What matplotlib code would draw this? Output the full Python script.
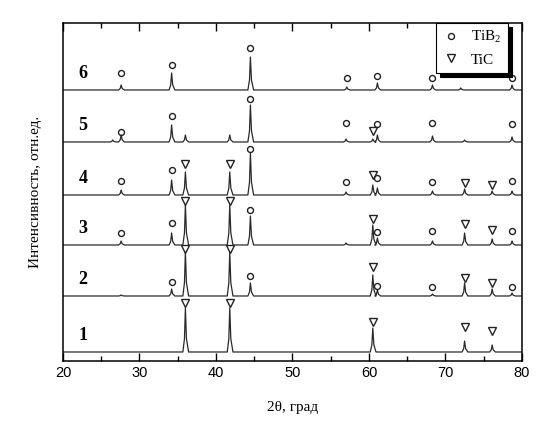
import matplotlib
matplotlib.use("Agg")
import matplotlib.pyplot as plt
from matplotlib.ticker import MultipleLocator

plt.rcParams["mathtext.fontset"] = "custom"
plt.rcParams["mathtext.rm"] = "Liberation Serif"
plt.rcParams["mathtext.it"] = "Liberation Serif:italic"

# ---------------- data ----------------
labels = ["1", "2", "3", "4", "5", "6"]
baselines = [9, 65, 116, 166, 219, 271]          # vertical offset of each pattern

# peak positions (2theta) and heights above baseline, per pattern
peaks_x = [
    [36.0, 41.8, 60.5, 72.5, 76.1],
    [27.6, 34.2, 36.0, 41.8, 44.5, 60.5, 61.1, 68.3, 72.5, 76.1, 78.7],
    [27.6, 34.2, 36.0, 41.8, 44.5, 57.0, 60.5, 61.1, 68.3, 72.5, 76.1, 78.7],
    [27.6, 34.2, 36.0, 41.8, 44.5, 57.0, 60.5, 61.1, 68.3, 72.5, 76.1, 78.7],
    [26.5, 27.6, 34.2, 36.0, 41.8, 44.5, 57.0, 60.5, 61.1, 68.3, 72.5, 78.7],
    [27.6, 34.2, 44.5, 57.1, 61.1, 68.3, 72.0, 78.7],
]
peaks_h = [
    [44, 44, 24, 11, 7],
    [1, 7, 44, 44, 13, 21, 6, 2, 13, 7, 3],
    [4, 12, 40, 40, 29, 2, 20, 7, 4, 12, 6, 4],
    [5, 15, 23, 23, 42, 3, 10, 7, 4, 6, 4, 4],
    [2, 7, 17, 7, 7, 37, 3, 3, 7, 6, 2, 5],
    [5, 17, 33, 3, 7, 5, 2, 5],
]

# TiB2 markers (circles): positions and heights above baseline
tib2_x = [
    [],
    [34.2, 44.5, 61.1, 68.3, 78.7],
    [27.6, 34.2, 44.5, 61.1, 68.3, 78.7],
    [27.6, 34.2, 44.5, 57.0, 61.1, 68.3, 78.7],
    [27.6, 34.2, 44.5, 57.0, 61.1, 68.3, 78.7],
    [27.6, 34.2, 44.5, 57.1, 61.0, 68.3, 78.7],
]
tib2_y = [
    [],
    [14, 20, 10, 9, 9],
    [12, 22, 35, 13, 14, 14],
    [14, 25, 46, 13, 17, 13, 14],
    [10, 26, 43, 19, 18, 19, 18],
    [17, 25, 42, 12, 14, 12, 12],
]

# TiC markers (down triangles)
tic_x = [
    [36.0, 41.8, 60.5, 72.5, 76.1],
    [36.0, 41.8, 60.5, 72.5, 76.1],
    [36.0, 41.8, 60.5, 72.5, 76.1],
    [36.0, 41.8, 60.5, 72.5, 76.1],
    [60.5],
    [],
]
tic_y = [
    [49, 49, 30, 25, 21],
    [47, 47, 29, 18, 13],
    [44, 44, 26, 21, 15],
    [31, 31, 20, 12, 10],
    [11],
    [],
]

x_range = [20, 80]
xticks = [20, 30, 40, 50, 60, 70, 80]

# ---------------- figure ----------------
fig = plt.figure(figsize=(5.37, 4.24), dpi=100)
ax = fig.add_axes([0.1173, 0.1486, 0.8547, 0.7972])

line_col = "#2a2a2a"
mk_col = "#222222"

for i in range(len(labels)):
    b = baselines[i]
    xs = [x_range[0]]
    ys = [b]
    for px, ph in sorted(zip(peaks_x[i], peaks_h[i])):
        xs += [px - 0.33, px - 0.12, px, px + 0.14, px + 0.42]
        ys += [b, b + ph * 0.3, b + ph, b + ph * 0.3, b]
    xs.append(x_range[1])
    ys.append(b)
    ax.plot(xs, ys, color=line_col, lw=0.9)

    if tib2_x[i]:
        ax.plot(tib2_x[i], [b + v for v in tib2_y[i]], linestyle="none",
                marker="o", ms=4.3, mfc="none", mec=mk_col, mew=1.0)
    if tic_x[i]:
        ax.plot(tic_x[i], [b + v for v in tic_y[i]], linestyle="none",
                marker="v", ms=5.3, mfc="none", mec=mk_col, mew=1.0)

    ax.text(22.6, b + 16, labels[i], fontsize=13, fontweight="bold",
            family="Liberation Serif", ha="center", va="center")

# legend
h1, = ax.plot([], [], linestyle="none", marker="o", ms=4.3, mfc="none",
              mec=mk_col, mew=1.0, label="TiB$_2$")
h2, = ax.plot([], [], linestyle="none", marker="v", ms=5.3, mfc="none",
              mec=mk_col, mew=1.0, label="TiC")
leg = ax.legend(handles=[h1, h2], loc="upper right", bbox_to_anchor=(0.969, 1.0),
                frameon=True, fancybox=False, edgecolor="black",
                shadow={"color": "black", "alpha": 1.0, "ox": 3, "oy": -3},
                prop={"family": "Liberation Serif", "size": 11},
                handletextpad=0.7, borderpad=0.4, labelspacing=0.5,
                handlelength=1.2, borderaxespad=0.0)
leg.get_frame().set_linewidth(0.8)

ax.set_xlim(x_range)
ax.set_ylim(0, 338)
ax.set_xticks(xticks)
ax.xaxis.set_minor_locator(MultipleLocator(5))
ax.set_yticks([])
ax.tick_params(axis="x", which="both", direction="in", top=True, bottom=True)
ax.tick_params(axis="x", which="major", length=6, width=1.0, labelsize=10.5)
ax.tick_params(axis="x", which="minor", length=3.5, width=1.0)
for lab in ax.get_xticklabels():
    lab.set_family("Liberation Sans")
for s in ax.spines.values():
    s.set_linewidth(1.1)

ax.set_xlabel("2θ, град", family="Liberation Serif", fontsize=11, labelpad=15)
ax.set_ylabel("Интенсивность, отн.ед.", family="Liberation Serif", fontsize=11,
              labelpad=15)

fig.savefig("out.png", dpi=100)
